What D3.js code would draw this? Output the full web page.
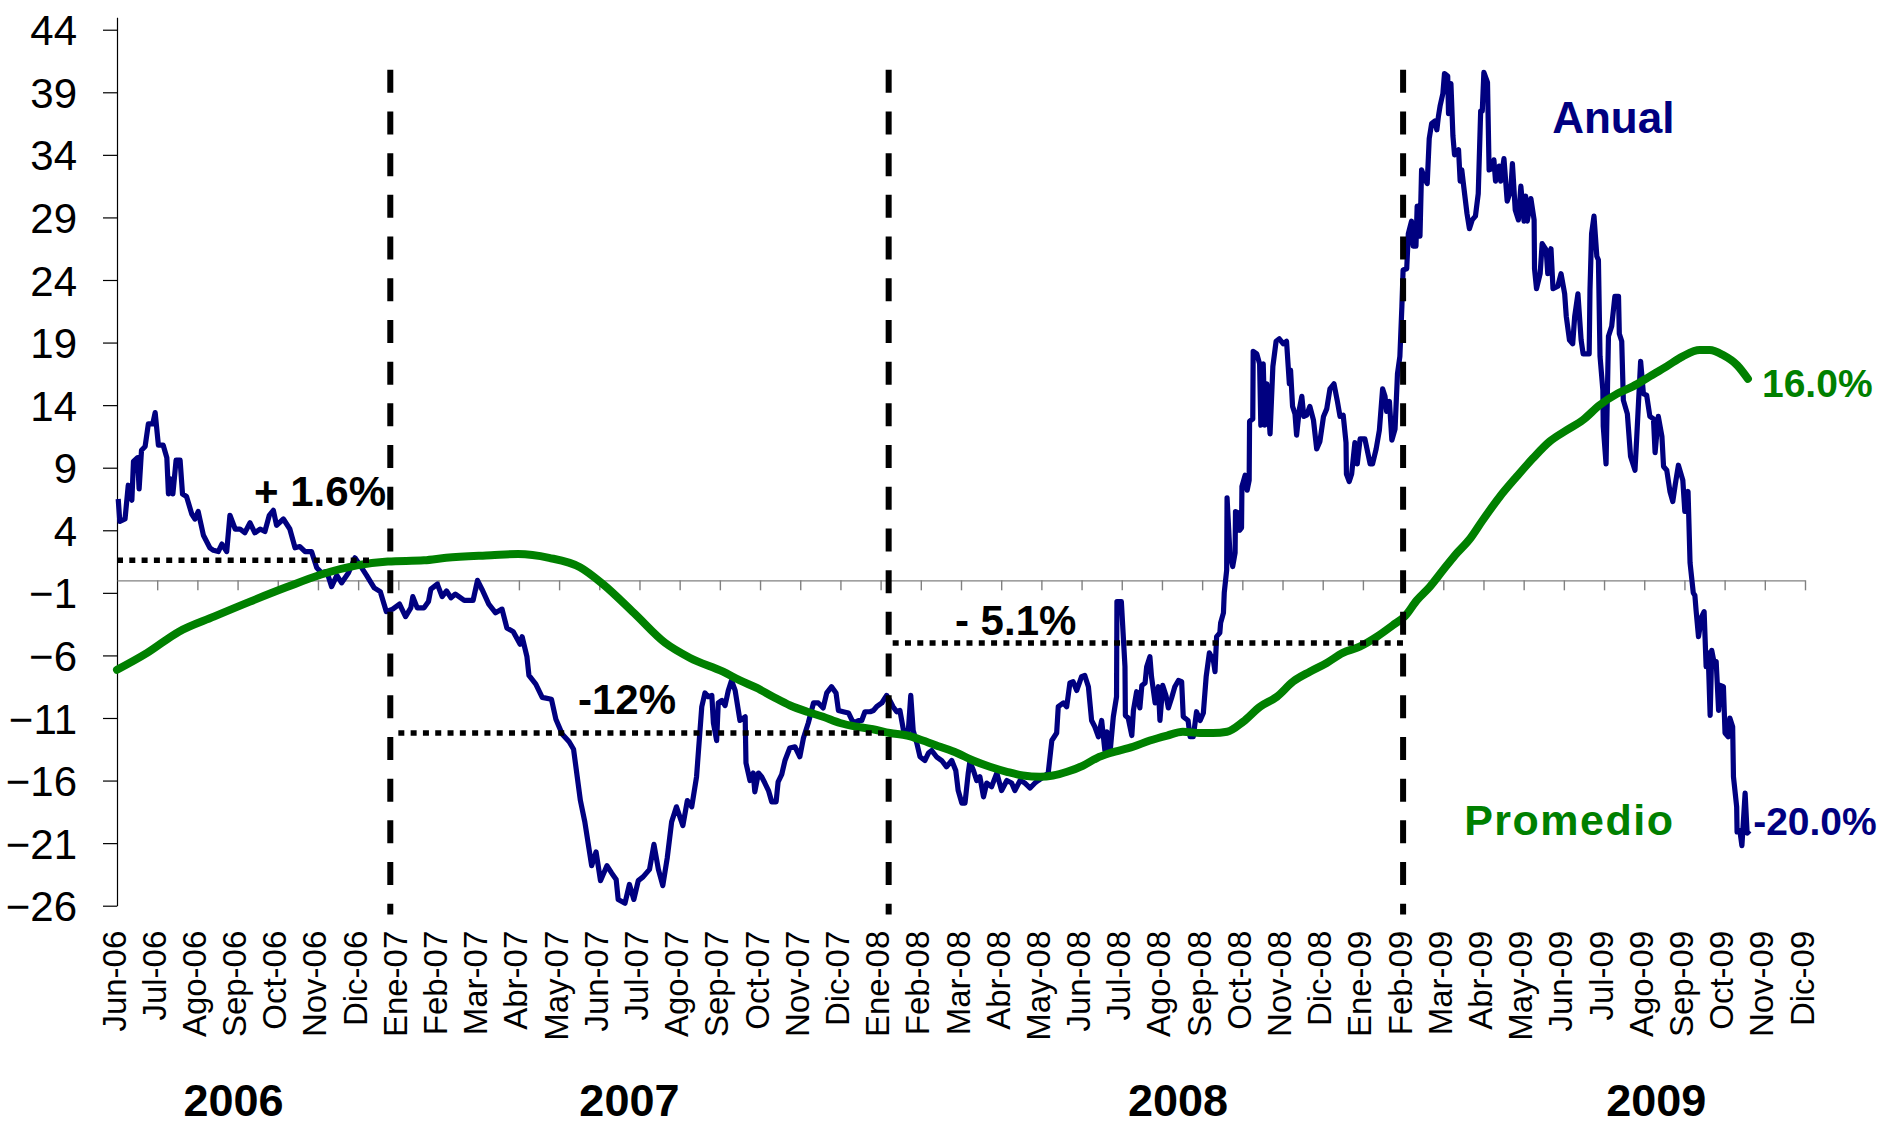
<!DOCTYPE html>
<html>
<head>
<meta charset="utf-8">
<script src="https://cdn.jsdelivr.net/npm/d3@7"></script>
<style>
  body { margin: 0; background: #fff; }
  svg { display: block; font-family: "Liberation Sans", Arial, sans-serif; }
</style>
</head>
<body>
<svg id="chart" width="1881" height="1126"></svg>
<script>
// x axis: one label per month, position = month offset from Jun-06
var monthLabels = ['Jun-06', 'Jul-06', 'Ago-06', 'Sep-06', 'Oct-06', 'Nov-06', 'Dic-06',
    'Ene-07', 'Feb-07', 'Mar-07', 'Abr-07', 'May-07', 'Jun-07', 'Jul-07', 'Ago-07', 'Sep-07', 'Oct-07', 'Nov-07', 'Dic-07',
    'Ene-08', 'Feb-08', 'Mar-08', 'Abr-08', 'May-08', 'Jun-08', 'Jul-08', 'Ago-08', 'Sep-08', 'Oct-08', 'Nov-08', 'Dic-08',
    'Ene-09', 'Feb-09', 'Mar-09', 'Abr-09', 'May-09', 'Jun-09', 'Jul-09', 'Ago-09', 'Sep-09', 'Oct-09', 'Nov-09', 'Dic-09'];
var yTicks = [44, 39, 34, 29, 24, 19, 14, 9, 4, -1, -6, -11, -16, -21, -26];

var yearLabels = ['2006', '2007', '2008', '2009'];
var yearCenters = [2.9, 12.75, 26.4, 38.3];   // month offset
var yearBreaks = [6.8, 19.2, 32.0];            // month offset of the dashed lines

// mean of the annual rate in each period: [from, to, value]
var periodMeans = [[0, 6.35, 1.6], [7.0, 19.15, -12.2], [19.3, 32.0, -5.0]];
var periodLabels = ['+ 1.6%', '-12%', '- 5.1%'];
var endLabels = ['16.0%', '-20.0%'];

// annual variation, %  [month offset, value]
var anual = [
    [0.03, 6.5], [0.07, 4.7], [0.2, 4.9], [0.28, 7.6], [0.37, 6.4], [0.41, 9.5], [0.51, 9.8], [0.55, 7.3], [0.61, 10.4],
    [0.7, 10.7], [0.78, 12.5], [0.89, 12.5], [0.95, 13.4], [1.03, 10.8], [1.15, 10.8], [1.24, 9.8], [1.28, 6.9], [1.34, 8.1],
    [1.39, 6.9], [1.47, 9.6], [1.57, 9.6], [1.63, 6.9], [1.73, 6.7], [1.86, 5.3], [1.94, 4.9], [2.02, 5.5], [2.15, 3.6],
    [2.31, 2.6], [2.4, 2.4], [2.52, 2.3], [2.61, 2.9], [2.73, 2.3], [2.81, 5.2], [2.94, 4.1], [3.06, 4.1], [3.18, 3.8],
    [3.31, 4.6], [3.43, 3.8], [3.56, 4.1], [3.68, 3.9], [3.79, 5.2], [3.89, 5.6], [3.97, 4.4], [4.14, 4.9], [4.3, 4.1],
    [4.43, 2.6], [4.55, 2.7], [4.68, 2.3], [4.84, 2.3], [4.97, 1.0], [5.09, 0.6], [5.22, 0.7], [5.34, -0.5], [5.47, 0.4],
    [5.59, -0.2], [5.76, 0.6], [5.92, 1.8], [6.09, 1.0], [6.21, 0.4], [6.4, -0.6], [6.55, -0.9], [6.7, -2.5], [6.86, -2.3],
    [7.03, -1.9], [7.18, -2.9], [7.31, -2.2], [7.36, -1.3], [7.47, -2.2], [7.64, -2.2], [7.75, -1.7], [7.81, -0.7],
    [7.97, -0.3], [8.09, -1.3], [8.2, -0.85], [8.31, -1.4], [8.42, -1.1], [8.64, -1.6], [8.86, -1.6], [8.97, 0.0],
    [9.08, -0.7], [9.25, -1.9], [9.42, -2.6], [9.58, -2.3], [9.7, -3.8], [9.86, -4.1], [10.03, -5.1], [10.08, -4.5],
    [10.2, -6.1], [10.25, -7.6], [10.42, -8.3], [10.58, -9.35], [10.81, -9.5], [10.92, -11.1], [11.08, -12.3],
    [11.25, -12.9], [11.36, -13.5], [11.53, -17.6], [11.64, -19.3], [11.81, -22.8], [11.92, -21.7], [12.03, -24.0],
    [12.19, -22.8], [12.31, -23.4], [12.42, -23.9], [12.47, -25.5], [12.64, -25.8], [12.75, -24.3], [12.86, -25.5],
    [12.97, -24.0], [13.09, -23.7], [13.25, -23.1], [13.36, -21.1], [13.47, -23.1], [13.58, -24.4], [13.69, -22.2],
    [13.8, -19.3], [13.92, -18.1], [14.08, -19.6], [14.19, -17.6], [14.3, -18.1], [14.42, -15.7], [14.55, -10.1],
    [14.63, -9.0], [14.71, -9.3], [14.8, -9.2], [14.84, -11.4], [14.92, -12.8], [14.96, -9.8], [15.05, -9.6],
    [15.13, -10.0], [15.21, -8.8], [15.29, -8.0], [15.38, -8.8], [15.5, -11.2], [15.63, -10.9], [15.65, -14.6],
    [15.75, -16.0], [15.83, -15.4], [15.87, -16.9], [15.96, -15.4], [16.04, -15.7], [16.12, -16.2], [16.21, -16.8],
    [16.29, -17.7], [16.4, -17.7], [16.45, -16.1], [16.54, -15.5], [16.62, -14.4], [16.74, -13.4], [16.87, -13.3],
    [16.99, -14.1], [17.08, -12.6], [17.2, -11.4], [17.33, -9.8], [17.45, -9.8], [17.57, -10.2], [17.66, -9.0],
    [17.78, -8.5], [17.89, -9.0], [17.95, -10.4], [18.07, -10.5], [18.2, -10.6], [18.32, -11.4], [18.45, -11.2],
    [18.53, -11.2], [18.61, -10.5], [18.74, -10.5], [18.82, -10.4], [18.9, -10.1], [19.03, -9.8], [19.15, -9.2],
    [19.23, -9.6], [19.31, -10.1], [19.4, -10.5], [19.48, -10.4], [19.57, -12.0], [19.69, -12.0], [19.75, -9.2],
    [19.81, -12.0], [19.9, -13.0], [19.98, -14.1], [20.1, -14.4], [20.19, -13.8], [20.27, -13.6], [20.39, -14.1],
    [20.52, -14.4], [20.64, -14.9], [20.77, -14.4], [20.87, -15.2], [20.93, -16.8], [21.02, -17.8], [21.1, -17.8],
    [21.18, -15.4], [21.22, -14.5], [21.31, -15.2], [21.39, -16.0], [21.47, -15.7], [21.56, -17.3], [21.64, -16.2],
    [21.76, -16.5], [21.89, -15.4], [22.01, -16.8], [22.14, -16.0], [22.26, -16.2], [22.34, -16.8], [22.47, -16.0],
    [22.59, -16.2], [22.72, -16.6], [22.84, -16.2], [22.92, -16.0], [23.05, -15.7], [23.17, -15.4], [23.26, -12.8],
    [23.38, -12.2], [23.42, -10.1], [23.55, -9.8], [23.63, -10.1], [23.71, -8.2], [23.79, -8.1], [23.88, -8.8],
    [24.0, -7.7], [24.08, -7.6], [24.17, -8.5], [24.25, -11.2], [24.33, -11.7], [24.42, -12.5], [24.5, -11.2],
    [24.58, -13.6], [24.63, -12.1], [24.71, -13.7], [24.79, -10.9], [24.87, -9.3], [24.88, -1.7], [24.99, -1.7],
    [25.08, -6.9], [25.09, -10.8], [25.16, -11.0], [25.25, -12.4], [25.29, -10.4], [25.37, -8.9], [25.45, -10.2],
    [25.5, -8.4], [25.58, -8.2], [25.62, -6.9], [25.7, -6.1], [25.74, -7.7], [25.83, -9.8], [25.91, -8.5], [25.95, -11.2],
    [26.02, -8.4], [26.1, -9.2], [26.16, -10.2], [26.24, -9.4], [26.32, -8.5], [26.41, -8.0], [26.49, -8.1],
    [26.53, -10.9], [26.65, -11.2], [26.7, -12.5], [26.78, -12.5], [26.86, -10.5], [26.95, -11.2], [27.03, -10.6],
    [27.1, -7.7], [27.18, -5.8], [27.28, -6.4], [27.32, -7.3], [27.36, -4.5], [27.44, -4.2], [27.46, -3.4], [27.53, -2.6],
    [27.55, -1.0], [27.61, 0.8], [27.62, 6.6], [27.69, 2.2], [27.76, 1.1], [27.82, 2.2], [27.83, 5.5], [27.9, 5.4],
    [27.93, 4.0], [27.98, 4.2], [27.99, 7.5], [28.07, 8.4], [28.12, 7.2], [28.17, 8.0], [28.18, 12.7], [28.26, 12.9],
    [28.27, 18.3], [28.36, 18.1], [28.43, 17.3], [28.46, 12.4], [28.52, 17.3], [28.56, 12.4], [28.61, 15.7],
    [28.69, 11.7], [28.76, 17.1], [28.84, 19.1], [28.92, 19.3], [29.02, 18.9], [29.1, 19.1], [29.17, 15.7], [29.2, 16.8],
    [29.25, 13.9], [29.31, 13.3], [29.35, 11.6], [29.42, 13.7], [29.48, 14.7], [29.53, 13.1], [29.6, 13.2], [29.68, 13.9],
    [29.77, 12.8], [29.85, 10.5], [29.93, 11.1], [30.02, 13.1], [30.1, 13.7], [30.18, 15.3], [30.28, 15.7], [30.36, 14.4],
    [30.43, 13.1], [30.51, 13.2], [30.58, 11.0], [30.59, 8.5], [30.66, 7.9], [30.72, 8.5], [30.8, 11.0], [30.86, 9.3],
    [30.93, 11.3], [31.05, 11.3], [31.18, 9.3], [31.24, 9.3], [31.33, 10.5], [31.41, 12.0], [31.49, 15.3], [31.55, 14.7],
    [31.59, 13.5], [31.66, 14.3], [31.72, 11.2], [31.8, 12.1], [31.86, 16.5], [31.92, 17.9], [31.97, 21.9], [32.0, 24.8],
    [32.09, 24.9], [32.13, 27.7], [32.21, 28.7], [32.25, 26.7], [32.32, 26.7], [32.35, 29.9], [32.42, 27.5], [32.46, 32.8],
    [32.55, 32.0], [32.6, 31.7], [32.65, 35.3], [32.71, 36.5], [32.79, 36.7], [32.84, 36.0], [32.88, 37.1], [32.92, 37.9],
    [32.99, 38.9], [33.03, 40.5], [33.11, 40.3], [33.13, 37.3], [33.19, 39.7], [33.24, 35.5], [33.28, 34.0], [33.38, 34.4],
    [33.42, 31.9], [33.46, 32.8], [33.5, 31.7], [33.59, 29.3], [33.65, 28.1], [33.72, 28.8], [33.8, 29.1], [33.87, 30.9],
    [33.93, 37.5], [33.97, 37.5], [34.01, 40.6], [34.1, 39.8], [34.14, 32.8], [34.22, 32.9], [34.26, 33.6], [34.3, 31.9],
    [34.39, 33.1], [34.43, 31.9], [34.51, 33.7], [34.59, 30.3], [34.68, 31.2], [34.72, 33.3], [34.79, 29.6], [34.87, 28.8],
    [34.93, 31.5], [35.01, 28.7], [35.05, 30.7], [35.09, 28.7], [35.18, 30.5], [35.26, 28.8], [35.27, 24.9], [35.32, 23.3],
    [35.41, 24.5], [35.46, 26.9], [35.56, 26.4], [35.6, 24.5], [35.68, 26.5], [35.73, 23.3], [35.85, 23.5], [35.93, 24.5],
    [36.02, 22.9], [36.06, 21.1], [36.14, 19.2], [36.22, 18.9], [36.27, 21.1], [36.35, 22.9], [36.43, 19.2], [36.48, 18.1],
    [36.63, 18.1], [36.65, 23.2], [36.69, 27.7], [36.75, 29.1], [36.82, 25.9], [36.86, 25.6], [36.9, 17.9], [36.97, 15.2],
    [36.98, 12.3], [37.05, 9.3], [37.11, 19.5], [37.19, 20.3], [37.27, 22.7], [37.36, 22.7], [37.38, 19.7], [37.44, 19.1],
    [37.48, 14.4], [37.58, 13.3], [37.66, 9.9], [37.77, 8.8], [37.81, 11.2], [37.91, 17.5], [37.98, 14.9], [38.06, 14.8],
    [38.14, 13.1], [38.23, 12.9], [38.27, 10.2], [38.35, 13.1], [38.44, 11.5], [38.48, 9.1], [38.56, 8.8], [38.64, 7.1],
    [38.71, 6.3], [38.77, 7.6], [38.85, 9.2], [38.96, 8.0], [39.01, 5.5], [39.09, 7.1], [39.14, 1.4], [39.22, -1.0],
    [39.26, -1.2], [39.29, -2.4], [39.35, -4.5], [39.43, -2.9], [39.49, -2.5], [39.54, -6.9], [39.59, -5.8], [39.64, -10.8],
    [39.68, -5.6], [39.74, -6.6], [39.79, -6.5], [39.85, -10.4], [39.89, -8.4], [39.97, -8.5], [40.01, -12.2],
    [40.09, -12.5], [40.13, -11.0], [40.2, -11.7], [40.22, -15.7], [40.3, -18.1], [40.31, -20.1], [40.38, -20.0],
    [40.43, -21.2], [40.51, -17.0], [40.56, -20.2], [40.62, -20.0]
];

// average of the annual rate, %  [month offset, value]
var promedio = [
    [0, -7.15], [0.75, -5.8], [1.54, -4.1], [2.41, -2.9], [3.31, -1.7], [4.21, -0.56], [5.08, 0.47], [5.97, 1.2],
    [6.74, 1.5], [7.64, 1.6], [8.19, 1.8], [9.31, 2.0], [9.98, 2.1], [10.75, 1.8], [11.52, 1.05], [12.09, -0.3],
    [12.86, -2.6], [13.64, -5.0], [14.26, -6.2], [15.08, -7.3], [15.5, -8.0], [15.92, -8.6], [16.32, -9.3], [16.75, -10.0],
    [17.17, -10.5], [17.57, -10.9], [17.99, -11.4], [18.41, -11.7], [18.81, -11.9], [19.23, -12.2], [19.66, -12.4],
    [20.05, -12.8], [20.48, -13.3], [20.9, -13.8], [21.3, -14.4], [21.72, -14.9], [22.14, -15.3], [22.54, -15.6],
    [22.97, -15.7], [23.29, -15.6], [23.64, -15.3], [24.04, -14.8], [24.38, -14.2], [24.71, -13.8], [25.28, -13.3],
    [25.7, -12.8], [26.13, -12.4], [26.52, -12.1], [26.95, -12.2], [27.27, -12.2], [27.62, -12.1], [28.02, -11.3],
    [28.44, -10.1], [28.86, -9.3], [29.26, -8.1], [29.68, -7.3], [30.1, -6.6], [30.5, -5.8], [30.92, -5.3], [31.35, -4.5],
    [31.74, -3.6], [32.05, -2.85], [32.34, -1.6], [32.67, -0.5], [32.99, 0.8], [33.29, 2.0], [33.66, 3.3], [33.98, 4.8],
    [34.41, 6.7], [34.83, 8.3], [35.23, 9.75], [35.65, 11.1], [36.07, 12.0], [36.47, 12.8], [36.89, 14.0], [37.32, 14.9],
    [37.72, 15.5], [38.14, 16.3], [38.56, 17.1], [38.96, 17.9], [39.38, 18.4], [39.63, 18.4], [39.96, 18.0],
    [40.31, 17.2], [40.58, 16.1]
];

var NAVY = '#000080', GREEN = '#008000';

var svg = d3.select('#chart');

var x = d3.scaleLinear().domain([0, 42]).range([117, 1805]);
var y = d3.scaleLinear().domain([-26, 45]).range([905.7, 17.2]);

//y axis on the left
var yAxis = svg.append('g')
    .attr('transform', 'translate(' + x(0) + ',0)')
    .call(d3.axisLeft(y).tickValues(yTicks).tickSize(14).tickSizeOuter(0).tickPadding(26));
yAxis.select('.domain').attr('stroke', '#000').attr('stroke-width', 1.2);
yAxis.selectAll('.tick line').attr('stroke', '#000').attr('stroke-width', 1.2);
yAxis.selectAll('.tick text')
    .attr('font-size', 42)
    .attr('fill', '#000')
    .attr('dy', '0.36em')
    .style('font-family', '"Liberation Sans", Arial, sans-serif');

//zero line with month ticks
var zeroAxis = svg.append('g')
    .attr('transform', 'translate(0,' + y(0) + ')')
    .call(d3.axisBottom(x).tickValues(d3.range(1, 43)).tickSize(10).tickSizeOuter(0).tickFormat(''));
zeroAxis.selectAll('.domain, .tick line').attr('stroke', '#808080').attr('stroke-width', 1.4);

//month labels sit under the plot
var labelAxis = svg.append('g')
    .attr('transform', 'translate(0,' + y(-26) + ')')
    .call(d3.axisBottom(x).tickValues(d3.range(0, 43)).tickSize(0)
        .tickFormat(function (i) { return monthLabels[i]; }));
labelAxis.select('.domain').remove();
labelAxis.selectAll('.tick text')
    .attr('transform', 'rotate(-90)')
    .attr('text-anchor', 'end')
    .attr('x', -25)
    .attr('y', 8)
    .attr('dy', 0)
    .attr('font-size', 33)
    .attr('fill', '#000')
    .style('font-family', '"Liberation Sans", Arial, sans-serif');

//years
svg.append('g').selectAll('text')
    .data(yearLabels)
    .join('text')
    .attr('x', function (d, i) { return x(yearCenters[i]); })
    .attr('y', 1116)
    .attr('text-anchor', 'middle')
    .attr('font-size', 45)
    .attr('font-weight', 'bold')
    .text(function (d) { return d; });

//series
var line = d3.line()
    .x(function (d) { return x(d[0]); })
    .y(function (d) { return y(d[1]); });

svg.append('path')
    .datum(anual)
    .attr('d', line)
    .attr('fill', 'none')
    .attr('stroke', NAVY)
    .attr('stroke-width', 5.2)
    .attr('stroke-linejoin', 'round');

svg.append('path')
    .datum(promedio)
    .attr('d', line.curve(d3.curveMonotoneX))
    .attr('fill', 'none')
    .attr('stroke', GREEN)
    .attr('stroke-width', 8)
    .attr('stroke-linecap', 'round')
    .attr('stroke-linejoin', 'round');

//year separators
svg.append('g').selectAll('line')
    .data(yearBreaks)
    .join('line')
    .attr('x1', function (d) { return x(d); })
    .attr('x2', function (d) { return x(d); })
    .attr('y1', y(40.8))
    .attr('y2', y(-26.7))
    .attr('stroke', '#000')
    .attr('stroke-width', 6)
    .attr('stroke-dasharray', '23,18.7');

//period means
svg.append('g').selectAll('line')
    .data(periodMeans)
    .join('line')
    .attr('x1', function (d) { return x(d[0]); })
    .attr('x2', function (d) { return x(d[1]); })
    .attr('y1', function (d) { return y(d[2]); })
    .attr('y2', function (d) { return y(d[2]); })
    .attr('stroke', '#000')
    .attr('stroke-width', 5.5)
    .attr('stroke-dasharray', '6,6.3');

//labels: [month offset, value] of the baseline start
var notes = [
    { t: 3.41, v: 5.94, text: periodLabels[0], color: '#000', size: 42 },
    { t: 11.47, v: -10.68, text: periodLabels[1], color: '#000', size: 42 },
    { t: 20.85, v: -4.37, text: periodLabels[2], color: '#000', size: 42 },
    { t: 35.71, v: 35.75, text: 'Anual', color: NAVY, size: 44 },
    { t: 40.93, v: 14.65, text: endLabels[0], color: GREEN, size: 39 },
    { t: 33.52, v: -20.35, text: 'Promedio', color: GREEN, size: 43, spacing: 1.5 },
    { t: 40.71, v: -20.35, text: endLabels[1], color: NAVY, size: 39 }
];
svg.append('g').selectAll('text')
    .data(notes)
    .join('text')
    .attr('x', function (d) { return x(d.t); })
    .attr('y', function (d) { return y(d.v); })
    .attr('font-size', function (d) { return d.size; })
    .attr('font-weight', 'bold')
    .attr('letter-spacing', function (d) { return d.spacing || 0; })
    .attr('fill', function (d) { return d.color; })
    .text(function (d) { return d.text; });
</script>
</body>
</html>
